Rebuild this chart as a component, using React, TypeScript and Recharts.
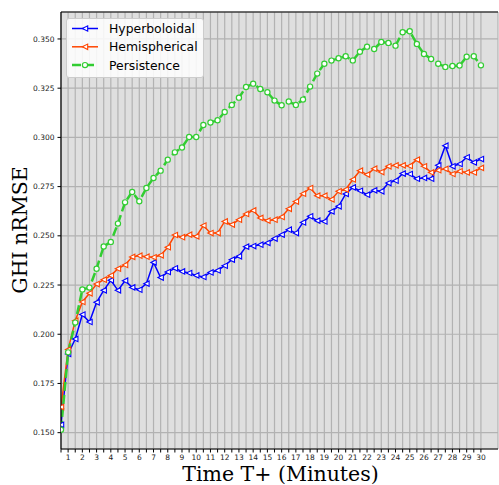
import React from 'react';
import { LineChart, Line, XAxis, YAxis, CartesianGrid, ReferenceLine } from 'recharts';

// Forecast horizon in minutes (30-second steps)
const minutes = [
  0.5, 1, 1.5, 2, 2.5, 3, 3.5, 4, 4.5, 5, 5.5, 6, 6.5, 7, 7.5, 8, 8.5, 9, 9.5, 10,
  10.5, 11, 11.5, 12, 12.5, 13, 13.5, 14, 14.5, 15, 15.5, 16, 16.5, 17, 17.5, 18, 18.5, 19, 19.5, 20,
  20.5, 21, 21.5, 22, 22.5, 23, 23.5, 24, 24.5, 25, 25.5, 26, 26.5, 27, 27.5, 28, 28.5, 29, 29.5, 30,
];

const hyperboloidal = [
  0.154, 0.190, 0.1976, 0.2100, 0.2062, 0.2162, 0.2223, 0.2274, 0.2223, 0.2272,
  0.2238, 0.2226, 0.2257, 0.2365, 0.2288, 0.2316, 0.2335, 0.2319, 0.2311, 0.2299,
  0.2291, 0.2314, 0.2324, 0.2348, 0.2379, 0.2396, 0.2445, 0.2448, 0.2455, 0.2464,
  0.2486, 0.2506, 0.2531, 0.2514, 0.2568, 0.2599, 0.2577, 0.2573, 0.2624, 0.2650,
  0.2713, 0.2746, 0.2729, 0.2709, 0.2731, 0.2726, 0.2768, 0.2780, 0.2816, 0.2814,
  0.2790, 0.2794, 0.2790, 0.2858, 0.2958, 0.2853, 0.2865, 0.2899, 0.2873, 0.2890,
];

const hemispherical = [
  0.163, 0.1922, 0.2069, 0.2164, 0.2208, 0.2255, 0.2277, 0.2298, 0.2333, 0.2352,
  0.2393, 0.2399, 0.2394, 0.2391, 0.2401, 0.2442, 0.2504, 0.2493, 0.2506, 0.2497,
  0.2552, 0.2514, 0.2514, 0.2573, 0.2557, 0.2582, 0.2611, 0.2629, 0.2591, 0.2577,
  0.2582, 0.2596, 0.2637, 0.2674, 0.2714, 0.2743, 0.2704, 0.2704, 0.2685, 0.2726,
  0.2735, 0.2786, 0.2831, 0.2811, 0.2841, 0.2824, 0.2853, 0.2858, 0.2858, 0.2855,
  0.2887, 0.2853, 0.2822, 0.2833, 0.2840, 0.2814, 0.2828, 0.2822, 0.2822, 0.2845,
];

const persistence = [
  0.1515, 0.1908, 0.2059, 0.2227, 0.2237, 0.2333, 0.2446, 0.2469, 0.2562, 0.2670,
  0.2723, 0.2675, 0.2743, 0.2794, 0.2831, 0.2887, 0.2924, 0.2949, 0.3002, 0.3002,
  0.3063, 0.3076, 0.3087, 0.3129, 0.3165, 0.3202, 0.3256, 0.3273, 0.3246, 0.3229,
  0.3187, 0.3163, 0.3182, 0.3165, 0.3192, 0.3258, 0.3324, 0.3374, 0.3390, 0.3402,
  0.3412, 0.3391, 0.3435, 0.3461, 0.3449, 0.3485, 0.3480, 0.3466, 0.3534, 0.3539,
  0.3475, 0.3424, 0.3398, 0.3374, 0.3358, 0.3363, 0.3365, 0.3410, 0.3412, 0.3366,
];

const yTicks = [0.15, 0.175, 0.2, 0.225, 0.25, 0.275, 0.3, 0.325, 0.35];
const yDomain = [0.1417, 0.3637];
const xDomain = [0.5, 31.2];

const seriesNames = ['Hyperboloidal', 'Hemispherical', 'Persistence'];

const rows = minutes.map((t, i) => ({
  t,
  hyperboloidal: hyperboloidal[i],
  hemispherical: hemispherical[i],
  persistence: persistence[i],
}));

const BLUE = '#0000ff';
const ORANGE = '#ff4500';
const GREEN = '#32cd32';

const series = [
  { key: 'hyperboloidal', name: seriesNames[0], color: BLUE, marker: 'triangle', width: 1.5, dash: undefined },
  { key: 'hemispherical', name: seriesNames[1], color: ORANGE, marker: 'triangle', width: 1.5, dash: undefined },
  { key: 'persistence', name: seriesNames[2], color: GREEN, marker: 'circle', width: 2.5, dash: '9 4' },
];

const SANS = 'DejaVu Sans, sans-serif';
const SERIF = 'DejaVu Serif, serif';

function markerShape(kind: string, color: string, cx: number, cy: number, key?: any) {
  if (kind === 'circle') {
    return <circle key={key} cx={cx} cy={cy} r={2.6} fill="#ffffff" stroke={color} strokeWidth={1.2} />;
  }
  const s = 2.7;
  return (
    <polygon
      key={key}
      points={`${cx - s},${cy} ${cx + s},${cy - s} ${cx + s},${cy + s}`}
      fill="#ffffff"
      stroke={color}
      strokeWidth={1.1}
    />
  );
}

const makeDot = (kind: string, color: string) => (props: any) => {
  const { cx, cy, index } = props;
  if (cx == null || cy == null) return <g key={index} />;
  return markerShape(kind, color, cx, cy, index);
};

// Legend box in the upper-left corner of the plot area
const LegendBox = ({ x, y }: { x: number; y: number }) => (
  <g transform={`translate(${x},${y})`}>
    <rect x={0.5} y={0.5} width={137} height={59} rx={2.5} fill="#ffffff" fillOpacity={0.85} stroke="#cccccc" />
    {series.map((s, i) => {
      const ry = 10.5 + i * 18.3;
      return (
        <g key={s.key}>
          <line x1={6} y1={ry} x2={32} y2={ry} stroke={s.color} strokeWidth={s.width} strokeDasharray={s.dash} />
          {markerShape(s.marker, s.color, 19, ry)}
          <text x={43} y={ry + 4.5} fontFamily={SANS} fontSize={12.4} fill="#000">
            {s.name}
          </text>
        </g>
      );
    })}
  </g>
);

const xTickFormat = (v: number) => (Number.isInteger(v) ? String(v) : '');

export default function App() {
  return (
    <div style={{ position: 'absolute', left: 0, top: 0, width: 499, height: 485, background: '#ffffff' }}>
      <LineChart
        width={499}
        height={485}
        data={rows}
        margin={{ top: 12, right: 1, bottom: 0, left: 0 }}
      >
        <CartesianGrid fill="#dfdfdf" fillOpacity={1} stroke="#b2b2b2" strokeWidth={1.2} />
        <XAxis
          dataKey="t"
          type="number"
          domain={xDomain}
          ticks={minutes}
          interval={0}
          tickFormatter={xTickFormat}
          height={36}
          tickSize={3.5}
          tickMargin={2}
          axisLine={{ stroke: '#000', strokeWidth: 1.2 }}
          tickLine={{ stroke: '#000', strokeWidth: 1 }}
          tick={{ fontFamily: SANS, fontSize: 7.5, fill: '#222' }}
          allowDataOverflow
          label={{
            content: () => (
              <text x={280.5} y={481} textAnchor="middle" fontFamily={SERIF} fontSize={20.5} fill="#000">
                Time T+ (Minutes)
              </text>
            ),
          }}
        />
        <YAxis
          type="number"
          domain={yDomain}
          ticks={yTicks}
          interval={0}
          allowDataOverflow
          width={61}
          tickSize={3.5}
          tickMargin={3}
          tickFormatter={(v: number) => v.toFixed(3)}
          axisLine={{ stroke: '#000', strokeWidth: 1.2 }}
          tickLine={{ stroke: '#000', strokeWidth: 1 }}
          tick={{ fontFamily: SANS, fontSize: 7.5, fill: '#222' }}
          label={{
            content: () => (
              <text
                x={26.5}
                y={230}
                transform="rotate(-90 26.5 230)"
                textAnchor="middle"
                fontFamily={SERIF}
                fontSize={20.5}
                fill="#000"
              >
                GHI nRMSE
              </text>
            ),
          }}
        />
        <ReferenceLine y={yDomain[1]} stroke="#000" strokeWidth={1.2} ifOverflow="visible" />
        {series.map((s) => (
          <Line
            key={s.key}
            dataKey={s.key}
            name={s.name}
            type="linear"
            stroke={s.color}
            strokeWidth={s.width}
            strokeDasharray={s.dash}
            dot={makeDot(s.marker, s.color)}
            activeDot={false}
            isAnimationActive={false}
          />
        ))}
        <ReferenceLine
          y={yDomain[1]}
          stroke="none"
          ifOverflow="visible"
          label={{ content: () => <LegendBox x={66} y={18} /> }}
        />
      </LineChart>
    </div>
  );
}
